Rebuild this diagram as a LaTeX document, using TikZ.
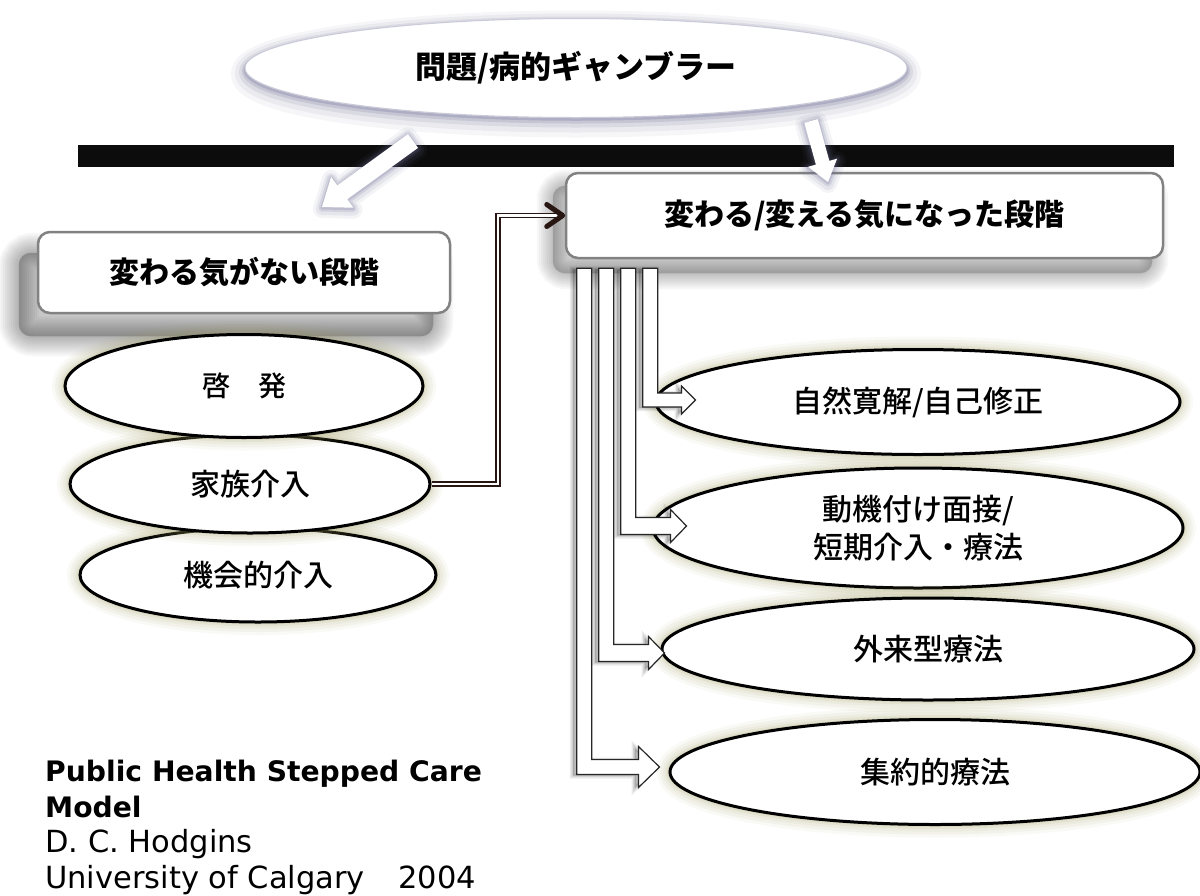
\documentclass[tikz,border=0pt]{standalone}
\usepackage{fontspec}
\newfontfamily\jp{Noto Sans CJK JP}
\IfFontExistsTF{Noto Sans CJK JP Medium}
  {\newfontfamily\jpm{Noto Sans CJK JP Medium}}
  {\newfontfamily\jpm{Noto Sans CJK JP}}
\newfontfamily\dv{DejaVu Sans}
\usetikzlibrary{shapes.geometric,calc}
\pgfdeclarelayer{bgfill}
\pgfdeclarelayer{shadowlayer}
\pgfsetlayers{bgfill,shadowlayer,main}
\definecolor{glowP}{RGB}{105,105,145}
\definecolor{glowY}{RGB}{165,160,100}
\definecolor{boxline}{RGB}{130,130,130}
\definecolor{barc}{RGB}{12,12,12}
\definecolor{conn}{RGB}{40,22,18}
\begin{document}
\begin{tikzpicture}[x=1pt,y=-1pt,
  ell/.style={ellipse, draw=black, line width=3pt, fill=white, inner sep=0pt,
    align=center, font=\jpm\fontsize{30}{38}\selectfont,
    preaction={draw=glowY, draw opacity=.06, line width=26pt},
    preaction={draw=glowY, draw opacity=.07, line width=20pt},
    preaction={draw=glowY, draw opacity=.08, line width=14pt},
    preaction={draw=glowY, draw opacity=.10, line width=9pt},
    preaction={draw=glowY, draw opacity=.14, line width=5pt}},
  topell/.style={ellipse, fill=white, draw=glowP!35, line width=1pt, inner sep=0pt,
    font=\jp\bfseries\fontsize{31}{36}\selectfont,
    preaction={draw=glowP, draw opacity=.06, line width=28pt, transform canvas={yshift=-6pt}},
    preaction={draw=glowP, draw opacity=.08, line width=20pt, transform canvas={yshift=-5pt}},
    preaction={draw=glowP, draw opacity=.12, line width=12pt, transform canvas={yshift=-4pt}},
    preaction={draw=glowP, draw opacity=.18, line width=6pt, transform canvas={yshift=-3pt}},
    preaction={draw=glowP, draw opacity=.25, line width=2.5pt, transform canvas={yshift=-2pt}}},
  stagebox/.style={rectangle, rounded corners=12pt, draw=boxline, line width=2.5pt,
    fill=white, inner sep=0pt, font=\jp\bfseries\fontsize{30}{36}\selectfont},
  softshadow/.style={draw=black, draw opacity=.03, rounded corners=14pt},
  warrow/.style={fill=white, draw=none,
    preaction={draw=glowP, draw opacity=.07, line width=18pt, line join=round, transform canvas={yshift=-2pt}},
    preaction={draw=glowP, draw opacity=.10, line width=12pt, line join=round, transform canvas={yshift=-2pt}},
    preaction={draw=glowP, draw opacity=.14, line width=7pt, line join=round, transform canvas={yshift=-1pt}},
    preaction={draw=glowP, draw opacity=.20, line width=3pt, line join=round, transform canvas={yshift=-1pt}}},
  barrow/.style={fill=white, draw=black!85, line width=1.2pt,
    preaction={draw=black, draw opacity=.08, line width=6pt, transform canvas={xshift=-4pt,yshift=-1pt}},
    preaction={draw=black, draw opacity=.10, line width=3pt, transform canvas={xshift=-4pt,yshift=-1pt}},
    preaction={fill=black, fill opacity=.20, transform canvas={xshift=-4pt,yshift=-1pt}}},
  dblconn/.style={draw=conn, line width=1.6pt, double=white, double distance=2.2pt},
  chev/.style={draw=conn, line width=5pt, line cap=round, line join=round}
]
\useasboundingbox (0,0) rectangle (1200,895);
\begin{pgfonlayer}{bgfill}
\fill[white] (0,0) rectangle (1200,895);
\end{pgfonlayer}

% top node and bar
\node[topell, minimum width=662pt, minimum height=99pt] (top) at (576,68) {問題/病的ギャンブラー};
\fill[barc] (78,145) rectangle (1174,167);

% stage boxes
\node[stagebox, minimum width=597pt, minimum height=85pt] (nc) at (864.5,215.5) {変わる/変える気になった段階};
\node[stagebox, minimum width=412pt, minimum height=81pt] (nn) at (244,272.5) {変わる気がない段階};

% soft shadows of the stage boxes
\begin{pgfonlayer}{shadowlayer}
\fill[black, fill opacity=.22, rounded corners=12pt] ([shift={(-18,22)}]nn.south west) rectangle ([shift={(-18,22)}]nn.north east);
\foreach \w in {4,8,...,40}
  \draw[softshadow, line width=\w pt] ([shift={(-18,22)}]nn.south west) rectangle ([shift={(-18,22)}]nn.north east);
\fill[black, fill opacity=.18, rounded corners=12pt] ([shift={(-12,14)}]nc.south west) rectangle ([shift={(-12,14)}]nc.north east);
\foreach \w in {4,8,...,32}
  \draw[softshadow, line width=\w pt] ([shift={(-12,14)}]nc.south west) rectangle ([shift={(-12,14)}]nc.north east);
\end{pgfonlayer}

% left ellipses
\node[ell, minimum width=356pt, minimum height=94pt] (e3) at (258,575) {機会的介入};
\node[ell, minimum width=360pt, minimum height=98pt] (e2) at (250,484) {家族介入};
\node[ell, minimum width=358pt, minimum height=103pt, font=\jpm\fontsize{28}{34}\selectfont] (e1) at (244,386) {啓　発};

% right ellipses
\node[ell, minimum width=524pt, minimum height=105pt] (r1) at (918,402) {自然寛解/自己修正};
\node[ell, minimum width=530pt, minimum height=120pt] (r2) at (918,528) {動機付け面接/\\短期介入・療法};
\node[ell, minimum width=532pt, minimum height=102pt] (r3) at (928,649) {外来型療法};
\node[ell, minimum width=530pt, minimum height=105pt] (r4) at (935,772) {集約的療法};

% block arrows from the change box to the treatments
\foreach \tg/\ca/\sh/\hh/\hl/\tx/\cy in {r4/12pt/7.5pt/20.5pt/21pt/-9pt/5pt, r3/34pt/8.5pt/16.5pt/16pt/4pt/-4pt, r2/56pt/8.5pt/16.5pt/16pt/35pt/2pt, r1/78pt/7pt/14pt/14pt/41pt/2pt}{
  \draw[barrow] let \p1=(nc.south west), \p2=(\tg.west) in
    ({\x1+\ca}, {\y1-9pt}) -- ({\x1+\ca+15pt}, {\y1-9pt})
    -- ({\x1+\ca+15pt}, {\y2+\cy+\sh}) -- ({\x2+\tx-\hl}, {\y2+\cy+\sh})
    -- ({\x2+\tx-\hl}, {\y2+\cy+\hh}) -- ({\x2+\tx}, {\y2+\cy})
    -- ({\x2+\tx-\hl}, {\y2+\cy-\hh}) -- ({\x2+\tx-\hl}, {\y2+\cy-\sh})
    -- ({\x1+\ca}, {\y2+\cy-\sh}) -- cycle;
}

% double connector from family intervention to the change box
\coordinate (ctip) at ([xshift=-2pt]nc.west);
\draw[dblconn] (e2.east) -| ($(e2.east)!.5!(nc.west)$) |- ([xshift=-8pt]nc.west);
\draw[chev] ([shift={(-16,-11)}]ctip) -- (ctip) -- ([shift={(-16,11)}]ctip);

% white arrows from the top node
\coordinate (la1) at (413,141);
\coordinate (la2) at (322,207);
\coordinate (lab) at ($(la2)!25pt!(la1)$);
\path[warrow] ($(la1)!8.5pt!90:(la2)$) -- ($(lab)!8.5pt!90:(la2)$) -- ($(lab)!19pt!90:(la2)$)
  -- (la2) -- ($(lab)!19pt!-90:(la2)$) -- ($(lab)!8.5pt!-90:(la2)$) -- ($(la1)!8.5pt!-90:(la2)$) -- cycle;
\coordinate (ra1) at (811,121);
\coordinate (ra2) at (828,182);
\coordinate (rab) at ($(ra2)!20pt!(ra1)$);
\path[warrow] ($(ra1)!7pt!90:(ra2)$) -- ($(rab)!7pt!90:(ra2)$) -- ($(rab)!15pt!90:(ra2)$)
  -- (ra2) -- ($(rab)!15pt!-90:(ra2)$) -- ($(rab)!7pt!-90:(ra2)$) -- ($(ra1)!7pt!-90:(ra2)$) -- cycle;

% credit
\node[anchor=north west, align=left, inner sep=0pt, font=\dv\fontsize{30.5}{35.5}\selectfont] (credit) at (45,760)
  {{\bfseries\fontsize{28.2}{35.5}\selectfont Public Health Stepped Care}\\{\bfseries\fontsize{28.2}{35.5}\selectfont Model}\\D. C. Hodgins\\University of Calgary\hspace{1.1em}2004};
\end{tikzpicture}
\end{document}
